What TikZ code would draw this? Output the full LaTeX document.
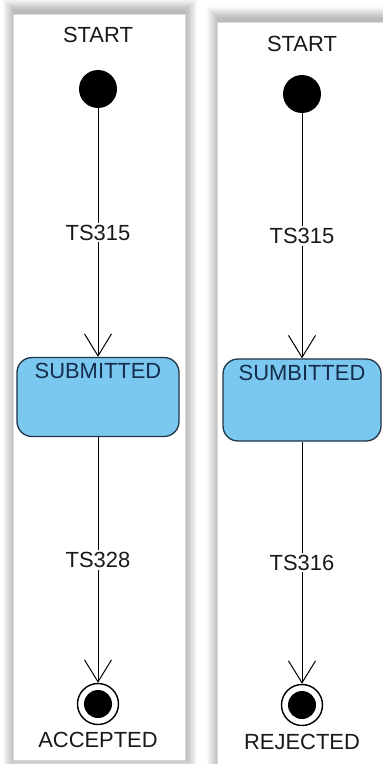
\documentclass[tikz,border=0pt]{standalone}
\usepackage{fontspec}
\setmainfont{Liberation Sans}
\usetikzlibrary{arrows.meta}
\definecolor{stateblue}{RGB}{122,200,240}
\definecolor{stateborder}{RGB}{34,52,72}
\definecolor{statetext}{RGB}{22,44,76}
\definecolor{labeltext}{RGB}{25,25,25}
\tikzset{
  lbl/.style={font=\fontsize{22}{25}\selectfont, text=labeltext, inner sep=1bp},
  edgelbl/.style={lbl, fill=white, inner sep=2bp},
  initst/.style={circle, fill=black, minimum size=38bp, inner sep=0pt},
  finalst/.style={circle, draw=black, line width=1.4bp, fill=white, minimum size=41bp, inner sep=0pt},
  statebox/.style={rectangle, rounded corners=15bp, fill=stateblue, draw=stateborder, line width=1.3bp,
    font=\fontsize{22}{25}\selectfont, text=statetext, text height=15bp, text depth=52bp, inner ysep=6bp, inner xsep=0pt},
  trans/.style={draw=black, line width=1bp, -{Straight Barb[length=22bp, width=27bp, line width=1bp]}},
  panel/.style={fill=white, draw=black!15, line width=0.4bp}
}
\begin{document}
\begin{tikzpicture}[x=1bp,y=-1bp]
\useasboundingbox (0,0) rectangle (382,764);
\fill[white] (0,0) rectangle (382,764);
% shadows
\foreach \i in {1,...,12} {
  \fill[black, opacity=0.022] (13-\i+2,14-\i-3) rectangle (185+\i,760+\i-2);
  \fill[black, opacity=0.022] (217-\i+2,22-\i-3) rectangle (400+\i,790+\i);
}
% panels
\path[panel] (13,14) rectangle (185,760);
\path[panel] (217,22) rectangle (400,790);

% left diagram
\node[lbl] (startL) at (98,35) {START};
\node[initst] (iL) at (98,89) {};
\node[statebox, minimum width=162bp] (subL) at (98,397) {SUBMITTED};
\node[finalst] (fL) at (98,704) {};
\fill[black] (fL.center) circle (14bp);
\node[lbl] (accL) at (98,740) {ACCEPTED};
\draw[trans] (iL) -- node[edgelbl] (tL1) {TS315} (subL.north);
\draw[trans] (subL.south) -- node[edgelbl] (tL2) {TS328} (fL.north);

% right diagram
\node[lbl] (startR) at (302,44) {START};
\node[initst] (iR) at (302,94) {};
\node[statebox, minimum width=158bp, text depth=55bp] (subR) at (302,400) {SUMBITTED};
\node[finalst] (fR) at (302,705) {};
\fill[black] (fR.center) circle (14bp);
\node[lbl] (rejR) at (302,742) {REJECTED};
\draw[trans] (iR) -- node[edgelbl] (tR1) {TS315} (subR.north);
\draw[trans] (subR.south) -- node[edgelbl] (tR2) {TS316} (fR.north);
\end{tikzpicture}
\end{document}
